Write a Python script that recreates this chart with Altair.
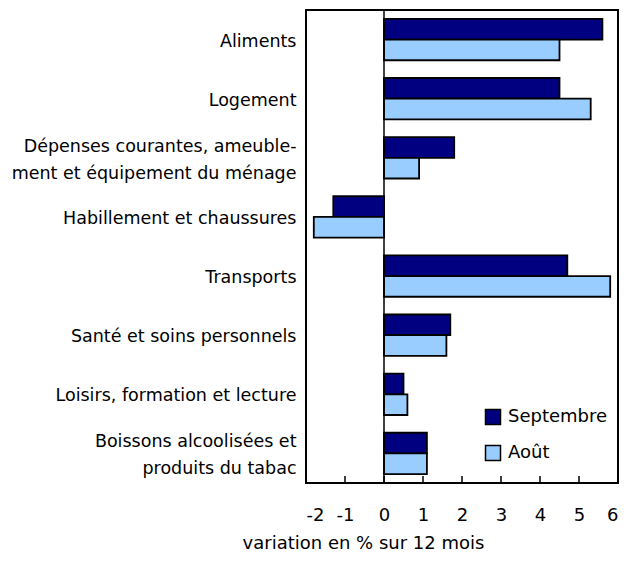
import altair as alt
import pandas as pd

categories = [
    "Aliments",
    "Logement",
    "Dépenses courantes, ameuble-|ment et équipement du ménage",
    "Habillement et chaussures",
    "Transports",
    "Santé et soins personnels",
    "Loisirs, formation et lecture",
    "Boissons alcoolisées et|produits du tabac",
]
septembre = [5.6, 4.5, 1.8, -1.3, 4.7, 1.7, 0.5, 1.1]
aout = [4.5, 5.3, 0.9, -1.8, 5.8, 1.6, 0.6, 1.1]
series = ["Septembre", "Août"]
colors = ["#000080", "#99CCFF"]
x_ticks = [-2, -1, 0, 1, 2, 3, 4, 5, 6]

rows = []
for c, s, a in zip(categories, septembre, aout):
    rows.append({"cat": c, "serie": "Septembre", "val": s})
    rows.append({"cat": c, "serie": "Août", "val": a})
df = pd.DataFrame(rows)

W, H = 312, 473
FONT = "DejaVu Sans"
FS = 18

xscale = alt.Scale(domain=[-2, 6], nice=False, zero=False)
xaxis = alt.Axis(values=x_ticks, title="variation en % sur 12 mois",
                 ticks=False, domain=False, grid=False,
                 labelExpr="toString(datum.value)", labelOverlap=False,
                 labelPadding=23, labelFontSize=FS, labelFont=FONT,
                 labelColor="black",
                 titleFontSize=FS, titleFont=FONT, titleFontWeight="normal",
                 titleColor="black", titleX=57, titleY=65,
                 titleAlign="center", titleBaseline="alphabetic")

bars = alt.Chart(df).mark_bar(stroke="black", strokeWidth=1.8).encode(
    x=alt.X("val:Q", scale=xscale, axis=xaxis),
    y=alt.Y("cat:N", sort=categories,
            scale=alt.Scale(paddingInner=0.3, paddingOuter=0.15),
            axis=alt.Axis(title=None, ticks=False, domain=False,
                          labelExpr="split(datum.label, '|')",
                          labelOffset={"condition": {"test": "indexof(datum.value, '|') >= 0",
                                                     "value": -11}, "value": 2},
                          labelFontSize=17.5, labelFont=FONT, labelColor="black",
                          labelPadding=10, labelLineHeight=27, labelLimit=400)),
    yOffset=alt.YOffset("serie:N", sort=series,
                        scale=alt.Scale(paddingInner=0, paddingOuter=0)),
    color=alt.Color("serie:N", sort=series,
                    scale=alt.Scale(domain=series, range=colors),
                    legend=alt.Legend(title=None, orient="none", legendX=178, legendY=398,
                                      symbolType="square", symbolSize=225,
                                      symbolStrokeColor="black", symbolStrokeWidth=1.5,
                                      labelFontSize=FS, labelFont=FONT, labelColor="black",
                                      rowPadding=14, labelOffset=6)),
)

zero = alt.Chart(pd.DataFrame({"val": [0]})).mark_rule(color="black", strokeWidth=1.5).encode(
    x=alt.X("val:Q", scale=xscale, axis=xaxis)
)

ticks = alt.Chart(pd.DataFrame({"val": x_ticks})).mark_rule(color="black", strokeWidth=1.5).encode(
    x=alt.X("val:Q", scale=xscale, axis=xaxis),
    y=alt.value(H),
    y2=alt.value(H - 7),
)

chart = alt.layer(bars, zero, ticks).properties(
    width=W, height=H,
    autosize=alt.AutoSizeParams(type="none"),
    padding={"left": 298, "top": 2, "right": 6, "bottom": 70},
    background="white",
).configure_view(stroke="black", strokeWidth=2)

chart.save("out.html", embed_options={"renderer": "svg", "actions": False})
